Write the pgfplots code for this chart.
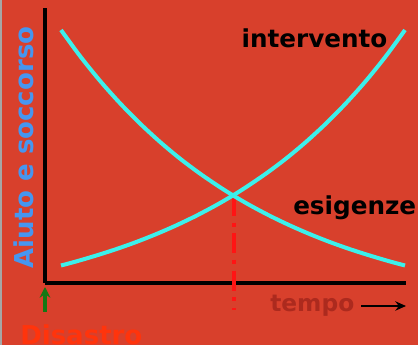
\documentclass[border=0pt]{standalone}
\usepackage{pgfplots}
\pgfplotsset{compat=1.18}
\usepackage{fontspec}
\setmainfont{DejaVu Sans}
\usetikzlibrary{arrows.meta}
\definecolor{bgred}{RGB}{216,64,44}
\definecolor{curvecyan}{RGB}{60,240,235}
\definecolor{labelblue}{RGB}{70,150,240}
\definecolor{tempored}{RGB}{172,42,30}
\definecolor{disred}{RGB}{255,52,12}
\definecolor{arrowgreen}{RGB}{20,120,20}
\definecolor{dashred}{RGB}{255,20,20}
\pgfplotstableread{
x y
61 253
80 227.0
100 202.2
120 179.8
140 159.5
160 141.1
180 124.4
200 109.4
220 95.8
234 87.0
250 77.7
270 67.1
290 57.5
310 48.8
330 40.9
350 33.8
370 27.4
390 21.5
405 17.5
}\esigenze
\pgfplotstableread{
x y
61 17.5
76 21.5
96 27.4
116 33.8
136 40.9
156 48.8
176 57.5
196 67.1
216 77.7
232 87.0
246 95.8
266 109.4
286 124.4
306 141.1
326 159.5
346 179.8
366 202.2
386 227.0
405 253
}\intervento
\pgfplotstableread{
x y
234 87
234 -27
}\disastroline
\begin{document}
\begin{tikzpicture}
\useasboundingbox (0,0) rectangle (313.5pt,258.75pt);
\clip (0,0) rectangle (313.5pt,258.75pt);
\fill[bgred] (0,0) rectangle (313.5pt,258.75pt);
\fill[gray!70] (0,0) rectangle (1.2pt,258.75pt);
\begin{axis}[
  at={(33.75pt,46.5pt)}, anchor=south west,
  scale only axis, width=270.75pt, height=206.25pt,
  xmin=45, xmax=406, ymin=0, ymax=275,
  axis lines=left, axis line style={black, line width=2.3pt, -},
  ticks=none, clip=false,
]
\addplot[dashred, line width=2.4pt, dash pattern=on 15pt off 5pt on 3pt off 5pt] table {\disastroline};
\addplot[curvecyan, line width=3pt, smooth] table {\esigenze};
\addplot[curvecyan, line width=3pt, smooth] table {\intervento};
\node[anchor=base, font=\bfseries\fontsize{18.5}{20}\selectfont] at (axis cs:314.5,235) {intervento};
\node[anchor=base west, inner sep=0pt, font=\bfseries\fontsize{18.5}{20}\selectfont] at (axis cs:293,68) {esigenze};
\node[anchor=base, inner sep=0pt, rotate=90, text=labelblue, font=\bfseries\fontsize{19.5}{21}\selectfont] at (axis cs:33,135.5) {Aiuto e soccorso};
\node[anchor=base west, inner sep=0pt, text=tempored, font=\bfseries\fontsize{17.5}{19}\selectfont] at (axis cs:270,-29) {tempo};
\draw[black, line width=1.8pt, -{Stealth[length=8pt,width=7pt]}] (axis cs:361,-23) -- (axis cs:406,-23);
\draw[arrowgreen, line width=2.4pt, -{Stealth[length=8pt,width=8pt]}] (axis cs:45,-29) -- (axis cs:45,-4);
\node[anchor=base west, inner sep=0pt, text=disred, font=\bfseries\fontsize{19.5}{21}\selectfont] at (axis cs:20,-62) {Disastro};
\end{axis}
\end{tikzpicture}
\end{document}
